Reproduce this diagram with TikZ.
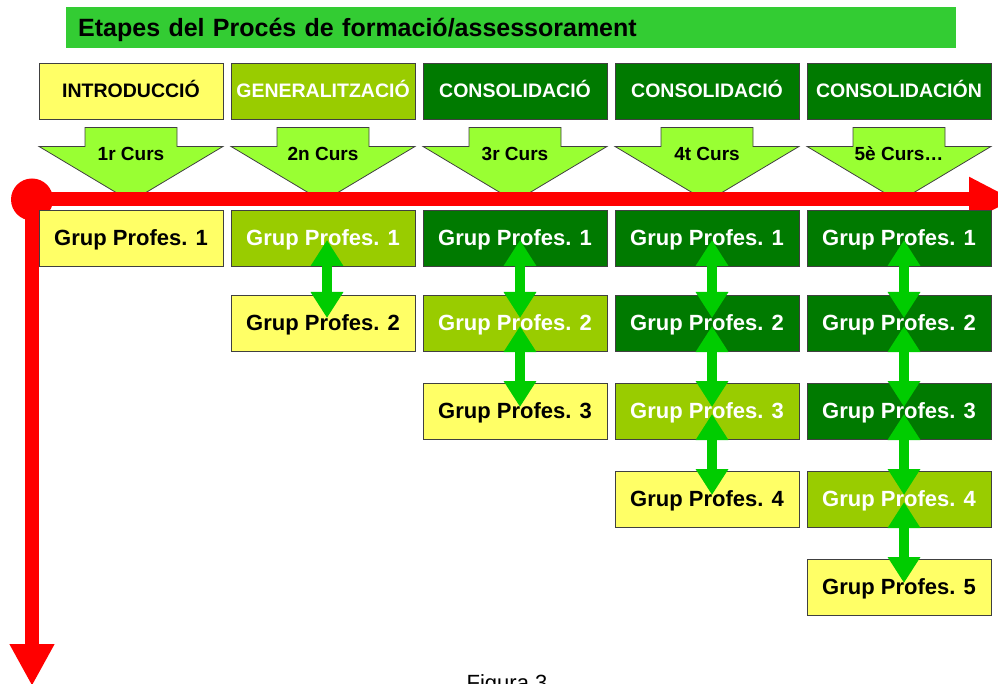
\documentclass[tikz,border=0pt]{standalone}
\usepackage{fontspec}
\setmainfont{Liberation Sans}
\usetikzlibrary{positioning}
\usetikzlibrary{arrows.meta}

\definecolor{cellyellow}{HTML}{FFFF66}
\definecolor{cellolive}{HTML}{99CC00}
\definecolor{celldark}{HTML}{007A00}
\definecolor{cursgreen}{HTML}{99FF33}
\definecolor{linkgreen}{HTML}{00CC00}
\definecolor{titlegreen}{HTML}{33CC33}

\begin{document}
\begin{tikzpicture}
    [
    x=1pt, y=-1pt,
    node distance=88pt and 192pt,
    on grid,
    cell/.style={draw=black!75, line width=0.9pt, rectangle, minimum width=184pt, minimum height=56pt, inner sep=0pt, text depth=0pt},
    stage/.style={cell, font=\bfseries\fontsize{19.5}{22}\selectfont, text height=14pt},
    group/.style={cell, font=\bfseries\fontsize{22}{24}\selectfont, text height=15.8pt},
    intro/.style={fill=cellyellow, text=black},
    general/.style={fill=cellolive, text=white},
    consol/.style={fill=celldark, text=white},
    cursarrow/.style={fill=cursgreen, draw=black!75, line width=0.8pt},
    curslabel/.style={font=\bfseries\fontsize{19}{22}\selectfont, text height=13.6pt, text depth=0pt, inner sep=0pt},
    timeline/.style={draw=red, line width=14pt},
    link/.style={draw=linkgreen, line width=10pt, {Triangle[length=26pt, width=31pt]}-{Triangle[length=26pt, width=31pt]}},
    ]

    \useasboundingbox (0,0) rectangle (998,684);

    % title bar
    \node[fill=titlegreen, anchor=north west, minimum height=41pt, text width=866pt, inner xsep=12pt, inner ysep=0pt,
          align=left, text height=17.9pt, text depth=0pt, font=\bfseries\fontsize{25}{28}\selectfont] (title) at (66,7)
          {Etapes del Procés de formació/assessorament};

    % stages
    \node[stage, intro] (hdr1) at (131,91) {INTRODUCCIÓ};
    \node[stage, general, right=of hdr1] (hdr2) {GENERALITZACIÓ};
    \node[stage, consol, right=of hdr2] (hdr3) {CONSOLIDACIÓ};
    \node[stage, consol, right=of hdr3] (hdr4) {CONSOLIDACIÓ};
    \node[stage, consol, right=of hdr4] (hdr5) {CONSOLIDACIÓN};

    % course arrows
    \foreach \col/\label in {1/1r Curs, 2/2n Curs, 3/3r Curs, 4/4t Curs, 5/5è Curs…}
    {
        \draw[cursarrow] ([xshift=-46pt, yshift=-8pt]hdr\col.south) -- ++(92,0) -- ++(0,19) -- ++(46,0)
            -- ++(-92,55) -- ++(-92,-55) -- ++(46,0) -- cycle;
        \node[curslabel] (curs\col) at ([yshift=-34pt]hdr\col.south) {\label};
    }

    % time axes
    \coordinate (origin) at (32,199.5);
    \coordinate (timeend) at (1014,199.5);
    \coordinate (levelend) at (32,686);
    \draw[timeline, -{Triangle[length=45pt, width=42pt]}] (origin) -- (timeend);
    \draw[timeline, -{Triangle[length=42pt, width=42pt]}] (origin) -- (levelend);
    \fill[red] (origin) circle (21pt);

    % groups
    \node[group, intro] (grp11) at (131,238) {Grup Profes. 1};
    \node[group, general, right=of grp11] (grp12) {Grup Profes. 1};
    \node[group, consol, right=of grp12] (grp13) {Grup Profes. 1};
    \node[group, consol, right=of grp13] (grp14) {Grup Profes. 1};
    \node[group, consol, right=of grp14] (grp15) {Grup Profes. 1};

    \node[group, intro, below=85pt of grp12] (grp22) {Grup Profes. 2};
    \node[group, general, right=of grp22] (grp23) {Grup Profes. 2};
    \node[group, consol, right=of grp23] (grp24) {Grup Profes. 2};
    \node[group, consol, right=of grp24] (grp25) {Grup Profes. 2};

    \node[group, intro, below=of grp23] (grp33) {Grup Profes. 3};
    \node[group, general, right=of grp33] (grp34) {Grup Profes. 3};
    \node[group, consol, right=of grp34] (grp35) {Grup Profes. 3};

    \node[group, intro, below=of grp34] (grp44) {Grup Profes. 4};
    \node[group, general, right=of grp44] (grp45) {Grup Profes. 4};

    \node[group, intro, below=of grp45] (grp55) {Grup Profes. 5};

    % links between groups
    \draw[link] ([xshift=4pt, yshift=-2pt]grp12.center) -- ([xshift=4pt, yshift=5pt]grp22.center);
    \draw[link] ([xshift=5pt, yshift=-2pt]grp13.center) -- ([xshift=5pt, yshift=5pt]grp23.center);
    \draw[link] ([xshift=5pt, yshift=-2pt]grp14.center) -- ([xshift=5pt, yshift=5pt]grp24.center);
    \draw[link] ([xshift=5pt, yshift=-2pt]grp15.center) -- ([xshift=5pt, yshift=5pt]grp25.center);
    \draw[link] ([xshift=5pt, yshift=-3pt]grp23.center) -- ([xshift=5pt, yshift=4pt]grp33.center);
    \draw[link] ([xshift=5pt, yshift=-3pt]grp24.center) -- ([xshift=5pt, yshift=4pt]grp34.center);
    \draw[link] ([xshift=5pt, yshift=-3pt]grp25.center) -- ([xshift=5pt, yshift=4pt]grp35.center);
    \draw[link] ([xshift=5pt, yshift=-3pt]grp34.center) -- ([xshift=5pt, yshift=4pt]grp44.center);
    \draw[link] ([xshift=5pt, yshift=-3pt]grp35.center) -- ([xshift=5pt, yshift=4pt]grp45.center);
    \draw[link] ([xshift=5pt, yshift=-3pt]grp45.center) -- ([xshift=5pt, yshift=4pt]grp55.center);

    % caption
    \node[font=\fontsize{22}{24}\selectfont, anchor=base, inner sep=0pt] (caption) at (507,690) {Figura 3};
\end{tikzpicture}
\end{document}
